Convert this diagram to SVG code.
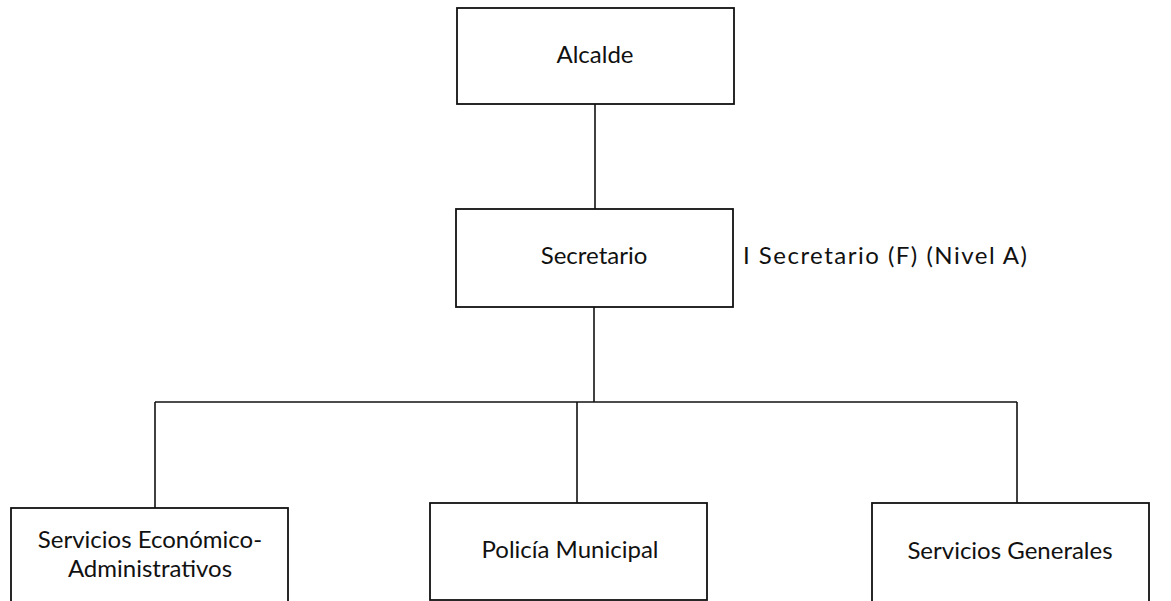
<svg xmlns="http://www.w3.org/2000/svg" width="1171" height="601" viewBox="0 0 1171 601">
<style>
.box{fill:#fff;stroke:#111;stroke-width:1.8}
.ln{fill:none;stroke:#111;stroke-width:1.6}
.t{font-family:Lato,"Open Sans",sans-serif;font-size:24px;fill:#111;text-anchor:middle}
.n{font-family:Lato,"Open Sans",sans-serif;font-size:24px;fill:#111}
</style>
<rect width="1171" height="601" fill="#fff"/>
<g id="connectors">
<line class="ln" x1="595" y1="104" x2="595" y2="209"/>
<line class="ln" x1="594" y1="307" x2="594" y2="402"/>
<line class="ln" x1="155" y1="402" x2="1017" y2="402"/>
<line class="ln" x1="155" y1="402" x2="155" y2="508"/>
<line class="ln" x1="577" y1="402" x2="577" y2="503"/>
<line class="ln" x1="1017" y1="402" x2="1017" y2="503"/>
</g>
<g id="alcalde">
<rect class="box" x="457" y="8" width="277" height="96"/>
<text class="t" x="595" y="63">Alcalde</text>
</g>
<g id="secretario">
<rect class="box" x="456" y="209" width="277" height="98"/>
<text class="t" x="594" y="264">Secretario</text>
</g>
<g id="secretario-note">
<text class="n" x="743" y="264" textLength="284" lengthAdjust="spacing">I Secretario (F) (Nivel A)</text>
</g>
<g id="servicios-eco">
<rect class="box" x="11" y="508" width="277" height="100"/>
<text class="t" x="150" y="548">Servicios Económico-</text>
<text class="t" x="150" y="577">Administrativos</text>
</g>
<g id="policia">
<rect class="box" x="430" y="503" width="277" height="97"/>
<text class="t" x="570" y="558">Policía Municipal</text>
</g>
<g id="servicios-gen">
<rect class="box" x="872" y="503" width="277" height="105"/>
<text class="t" x="1010" y="559">Servicios Generales</text>
</g>
</svg>
